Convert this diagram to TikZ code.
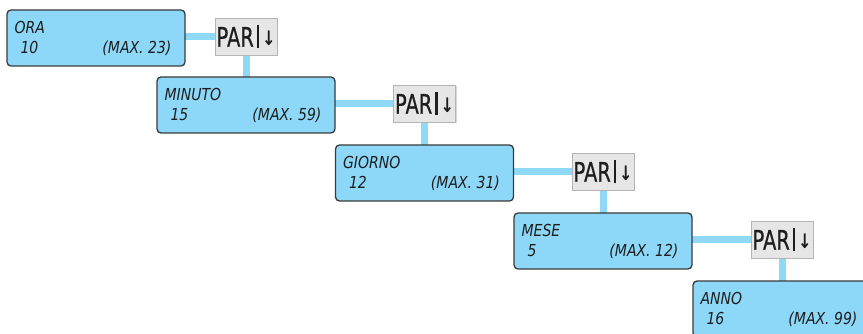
\documentclass[tikz,border=0pt]{standalone}
\usepackage{fontspec}
\usepackage{tikz}
\usetikzlibrary{calc,backgrounds,shadows}
\newfontfamily\lcdfont[FakeStretch=0.85]{DejaVu Sans}
\newfontfamily\keyfont[FakeStretch=0.72,FakeBold=0.6]{DejaVu Sans}
\newfontfamily\arrowfont[FakeStretch=0.8]{DejaVu Sans Bold}
\definecolor{lcdblue}{HTML}{8DD8F8}
\definecolor{lcdline}{HTML}{8FD8F6}
\definecolor{lcdframe}{HTML}{3A3A3A}
\definecolor{lcdtext}{HTML}{1E1E1E}
\definecolor{keyface}{HTML}{E6E6E6}
\definecolor{keyedge}{HTML}{B4B4B4}

\begin{document}
\begin{tikzpicture}[x=1pt, y=-1pt,
  display/.style={rectangle, rounded corners=4pt, draw=lcdframe, line width=1.3pt, fill=lcdblue, minimum width=178pt, minimum height=56pt, inner sep=0pt},
  lcdrow/.style={font={\lcdfont\itshape\fontsize{16.5}{18}\selectfont}, text=lcdtext, inner sep=0pt},
  parkey/.style={rectangle, draw=keyedge, line width=0.7pt, fill=keyface, minimum width=62pt, minimum height=37pt, inner sep=0pt, drop shadow={shadow xshift=1pt, shadow yshift=-1pt, fill=black!30}},
  link/.style={draw=lcdline, line width=7pt},
]
% picture in pixel units: 863 x 334, y grows downward
\useasboundingbox (0,0) rectangle (863,334);
\clip (0,0) rectangle (863,334);

\foreach \i/\x/\y/\lbl/\val/\maxv in {%
  0/96/38/ORA/10/23,
  1/246/105/MINUTO/15/59,
  2/424.5/173/GIORNO/12/31,
  3/603/241/MESE/5/12,
  4/782/309/ANNO/16/99%
} {
  \node[display] (d\i) at (\x,\y) {};
  \node[lcdrow, anchor=base west] (d\i-name) at ($(d\i.north west)+(8,24)$) {\lbl};
  \node[lcdrow, anchor=base west] (d\i-val) at ($(d\i.north west)+(14,44)$) {\val};
  \node[lcdrow, anchor=base east] (d\i-max) at ($(d\i.north east)+(-14,44)$) {(MAX. \maxv)};
}

\foreach \i/\j in {0/1,1/2,2/3,3/4} {
  \node[parkey] (p\i) at ($(d\j.center |- d\i.center)+(0,-1.5)$)
    {\keyfont\fontsize{27}{30}\selectfont\color{lcdtext}PAR\kern3pt\rule[-1.5pt]{2.2pt}{23.5pt}\kern3pt\raisebox{1pt}{\arrowfont\fontsize{20}{20}\selectfont ↓}};
}

% connectors behind displays and keys
\begin{scope}[on background layer]
\foreach \i/\j in {0/1,1/2,2/3,3/4} {
  \draw[link] (p\i.center) -- (p\i.center -| d\i.center);
  \draw[link] (p\i.center) -- (d\j.center);
}
\end{scope}
\end{tikzpicture}
\end{document}
